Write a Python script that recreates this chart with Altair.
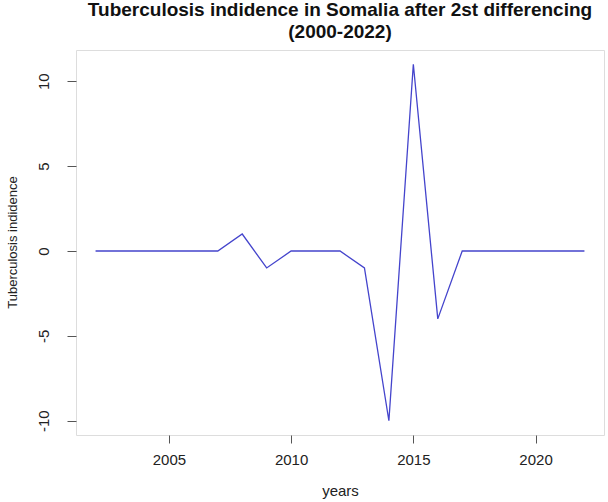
import altair as alt
import pandas as pd

years = list(range(2002, 2023))
values = [0, 0, 0, 0, 0, 0, 1, -1, 0, 0, 0, -1, -10, 11, -4, 0, 0, 0, 0, 0, 0]
x_ticks = [2005, 2010, 2015, 2020]
y_ticks = [-10, -5, 0, 5, 10]

df = pd.DataFrame({"year": years, "value": values})

FONT = "Liberation Sans"
TXT = "#222222"

chart = alt.Chart(df).mark_line(color="#4444cc", strokeWidth=1.3, clip=True).encode(
    x=alt.X("year:Q",
            scale=alt.Scale(domain=[2001.2, 2022.8], nice=False, zero=False),
            axis=alt.Axis(values=x_ticks, format="d", title="years", grid=False,
                          domain=False, tickSize=8, tickColor="#555555",
                          labelFontSize=15, labelFont=FONT, labelColor=TXT,
                          labelPadding=9, titleFontSize=15, titleFont=FONT,
                          titleFontWeight="normal", titleColor=TXT, titlePadding=16)),
    y=alt.Y("value:Q",
            scale=alt.Scale(domain=[-10.84, 11.84], nice=False, zero=False),
            axis=alt.Axis(values=y_ticks, title="Tuberculosis indidence", grid=False,
                          domain=False, tickSize=9, tickColor="#555555",
                          labelExpr="'' + datum.value",
                          labelAngle=270, labelAlign="center", labelBaseline="bottom",
                          labelFontSize=15, labelFont=FONT, labelColor=TXT,
                          labelPadding=16, titleFontSize=13, titleFont=FONT,
                          titleFontWeight="normal", titleColor=TXT,
                          titleX=-64, titleY=192, titleAngle=270,
                          titleAlign="center", titleBaseline="middle")),
).properties(
    width=528,
    height=385,
    title=alt.TitleParams(
        text=["Tuberculosis indidence in Somalia after 2st differencing", "(2000-2022)"],
        font=FONT, fontSize=19, fontWeight="bold", color="#111111",
        anchor="middle", offset=8, lineHeight=22),
    autosize=alt.AutoSizeParams(type="none"),
    padding={"left": 76, "top": 50, "right": 4, "bottom": 67},
).configure_view(stroke="#555555", strokeWidth=1.2).configure(background="white")

chart.save("out.html", embed_options={"renderer": "svg", "actions": False})
